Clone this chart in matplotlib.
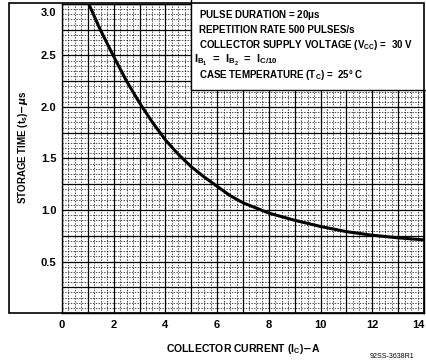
import numpy as np
import matplotlib.pyplot as plt
from matplotlib.patches import Rectangle
from matplotlib.transforms import ScaledTranslation

# storage time vs collector current
ic_amps = [1.0, 1.5, 2.0, 2.5, 3.0, 3.5, 4.0, 4.5, 5.0, 5.5, 6.0, 6.5, 7.0,
           8.0, 9.0, 10.0, 11.0, 12.0, 13.0, 14.0]
ts_us = [3.02, 2.74, 2.49, 2.25, 2.04, 1.85, 1.68, 1.54, 1.42, 1.32, 1.23,
         1.14, 1.07, 0.97, 0.90, 0.84, 0.79, 0.755, 0.73, 0.71]

x_ticks = [0, 2, 4, 6, 8, 10, 12, 14]
y_ticks = [0.5, 1.0, 1.5, 2.0, 2.5, 3.0]

conditions = [
    r"PULSE DURATION = 20$\mathregular{\mu}$s",
    "REPETITION RATE 500 PULSES/s",
    r"COLLECTOR SUPPLY VOLTAGE (V$\mathregular{_{CC}}$) =  30 V",
    r"$\mathregular{I_{B_1}\ =\ I_{B_2}\ =\ I_{C/10}}$",
    r"CASE TEMPERATURE (T$\mathregular{_C}$) =  25° C",
]

plt.rcParams['font.family'] = ['Liberation Sans', 'DejaVu Sans']
plt.rcParams['font.weight'] = 'bold'

W, H = 427, 363
fig = plt.figure(figsize=(W / 100, H / 100), dpi=100)
ax = fig.add_axes([62 / W, (H - 313) / H, (424 - 62) / W, (313 - 4) / H])

ax.set_xlim(0, 14)
ax.set_ylim(0, 3.0)

# grid: solid every 1 A / 0.25 us, dashed every 0.25 A / 0.05 us
major_x = np.arange(0, 14.01, 1.0)
major_y = np.arange(0, 3.01, 0.25)
ax.set_xticks(major_x)
ax.set_xticks(np.arange(0, 14.01, 0.25), minor=True)
ax.set_yticks(major_y)
ax.set_yticks(np.arange(0, 3.01, 0.05), minor=True)
ax.grid(which='major', color='black', lw=0.9)
ax.grid(which='minor', color='black', lw=0.5, linestyle=(0, (2, 2)))
ax.tick_params(which='both', length=0)
ax.set_axisbelow(True)

ax.set_xticklabels(["%d" % v if round(v) in x_ticks else "" for v in major_x],
                   fontsize=8, fontweight='bold')
ax.set_yticklabels(["%.1f" % v if any(abs(v - t) < 1e-6 for t in y_ticks) else ""
                    for v in major_y], fontsize=8, fontweight='bold')
ax.tick_params(axis='x', pad=5)
ax.tick_params(axis='y', pad=4)

# nudge the edge labels inward like the original
for lab in ax.get_yticklabels():
    if lab.get_text() == "3.0":
        lab.set_transform(lab.get_transform() + ScaledTranslation(0, -0.08, fig.dpi_scale_trans))
for lab in ax.get_xticklabels():
    if lab.get_text() == "14":
        lab.set_transform(lab.get_transform() + ScaledTranslation(-0.06, 0, fig.dpi_scale_trans))

for s in ax.spines.values():
    s.set_linewidth(1.0)

ax.plot(ic_amps, ts_us, color='black', lw=2.2, zorder=3)

# conditions box
ax.add_patch(Rectangle((5.0, 2.165), 9.2, 1.0, facecolor='white',
                       edgecolor='black', lw=1.0, zorder=4, clip_on=False))
for i, line in enumerate(conditions):
    ax.text(5.3 if i != 3 else 5.1, 2.89 - i * 0.145, line,
            fontsize=7 if i != 3 else 8, fontweight='bold',
            va='center', ha='left', zorder=5)

ax.set_xlabel(r"COLLECTOR CURRENT (I$\mathregular{_C}$)$-$A", fontsize=7.5,
              fontweight='bold', labelpad=9)
fig.text(23 / W, 1 - 147 / H, r"STORAGE TIME (t$\mathregular{_s}$)$-\mu$s",
         rotation=90, fontsize=7, fontweight='bold', va='center', ha='center')

# outer frame of the drawing
fig.add_artist(Rectangle((9 / W, (H - 313) / H), (424 - 9) / W, (313 - 3) / H,
                         transform=fig.transFigure, fill=False,
                         edgecolor='black', lw=1.2))

fig.text(392 / W, 1 - 357 / H, "92SS-3638R1", fontsize=5, ha='center',
         va='center', fontweight='normal')

fig.savefig("out.png", dpi=100)
